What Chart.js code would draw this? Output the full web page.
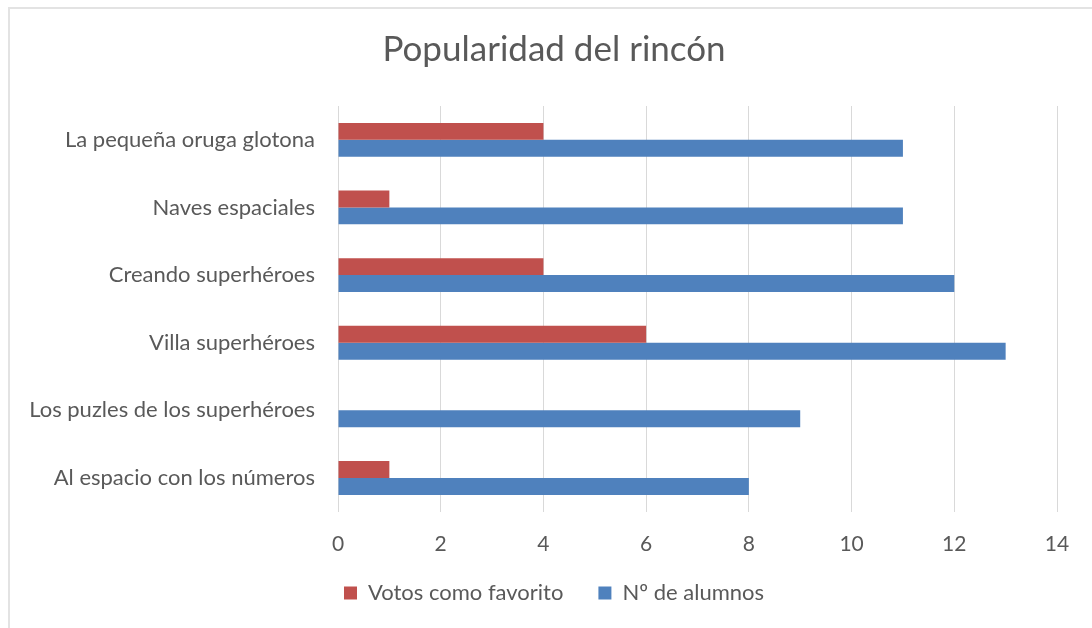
<!DOCTYPE html>
<html>
<head>
<meta charset="utf-8">
<script src="https://cdn.jsdelivr.net/npm/chart.js@4.4.0/dist/chart.umd.min.js"></script>
<style>
  html, body { margin: 0; padding: 0; background: #fff; }
  #wrap { position: relative; width: 1092px; height: 628px; overflow: hidden; }
  #frame { position: absolute; left: 8px; top: 7px; width: 1200px; height: 700px;
           border: 2px solid #e3e3e3; box-sizing: border-box; pointer-events: none; }
  canvas { position: absolute; left: 0; top: 0; }
</style>
</head>
<body>
<div id="wrap">
  <div id="frame"></div>
  <canvas id="chart" width="1092" height="628"></canvas>
</div>
<script>
const categories = [
    'La pequeña oruga glotona',
    'Naves espaciales',
    'Creando superhéroes',
    'Villa superhéroes',
    'Los puzles de los superhéroes',
    'Al espacio con los números'
];
const votos = [4, 1, 4, 6, 0, 1];
const alumnos = [11, 11, 12, 13, 9, 8];
const xTicks = [0, 2, 4, 6, 8, 10, 12, 14];

const textColor = '#595959';
const gridColor = '#d9d9d9';
const fontFamily = 'Lato, "Open Sans", sans-serif';

Chart.defaults.font.family = fontFamily;
Chart.defaults.color = textColor;

// pull the legend row up, closer to the axis labels
const legendNudge = {
    id: 'legendNudge',
    afterLayout(chart){
        const lg = chart.legend;
        if(lg){
            lg.top -= 30;
            lg.bottom -= 30;
        }
    }
};

function initChart(){
    const ctx = document.getElementById('chart').getContext('2d');
    var chart = new Chart(ctx, {
        type: 'bar',
        data: {
            labels: categories,
            datasets: [{
                label: 'Votos como favorito',
                backgroundColor: '#c0504d',
                data: votos
            }, {
                label: 'Nº de alumnos',
                backgroundColor: '#4f81bd',
                data: alumnos
            }]
        },
        options: {
            indexAxis: 'y',
            responsive: false,
            animation: false,
            categoryPercentage: 0.5,
            barPercentage: 1.0,
            layout: {
                padding: { left: 16, right: 0, top: 0, bottom: -16 }
            },
            plugins: {
                title: {
                    display: true,
                    text: 'Popularidad del rincón',
                    color: textColor,
                    font: { size: 35, weight: 'normal' },
                    padding: { top: 29, bottom: 35 }
                },
                legend: {
                    position: 'bottom',
                    labels: {
                        boxWidth: 13,
                        boxHeight: 13,
                        padding: 35,
                        font: { size: 22 },
                        color: textColor
                    }
                },
                tooltip: { enabled: false }
            },
            scales: {
                x: {
                    min: 0,
                    max: 14,
                    afterBuildTicks: function(scale){
                        scale.ticks = xTicks.map(v => ({ value: v }));
                    },
                    grid: { color: gridColor, drawTicks: false },
                    border: { display: false },
                    ticks: { font: { size: 21 }, padding: 20, color: textColor }
                },
                y: {
                    afterFit: function(scale){ scale.width = 322; },
                    grid: { display: false, drawTicks: false },
                    border: { display: true, color: gridColor },
                    ticks: { font: { size: 22 }, padding: 23, color: textColor }
                },
                // empty spacer on the right so the plot ends where the original does
                spacer: {
                    type: 'linear',
                    position: 'right',
                    afterFit: function(scale){ scale.width = 35; },
                    grid: { display: false, drawTicks: false },
                    border: { display: false },
                    ticks: { display: false }
                }
            }
        },
        plugins: [legendNudge]
    });
}

initChart();
</script>
</body>
</html>
